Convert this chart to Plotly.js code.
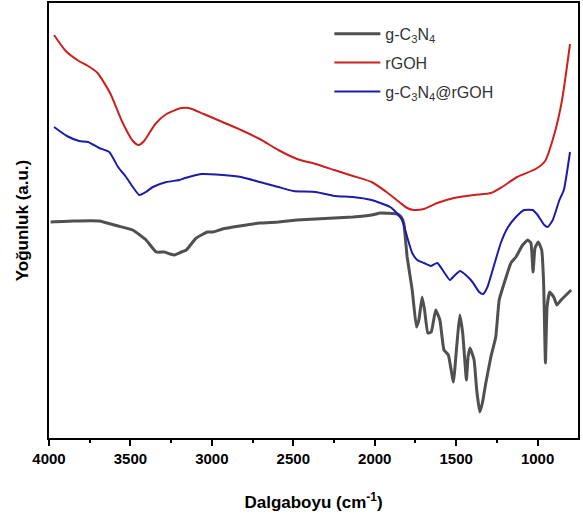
<!DOCTYPE html>
<html>
<head>
<meta charset="utf-8">
<script src="https://cdn.plot.ly/plotly-3.0.1.min.js"></script>
<style>html,body{margin:0;padding:0;background:#fff;}#chart{width:583px;height:524px;}</style>
</head>
<body>
<div id="chart"></div>
<script>
// Wavenumbers (cm-1) and intensities (a.u.)
const gcnWn = [3990,3851,3692,3576,3486,3404,3342,3291,3256,3229,3187,3157,3096,3027,2993,2935,2829,2706,2592,2477,2363,2248,2134,2019,1965,1863,1838,1822,1801,1770,1744,1729,1709,1694,1674,1653,1626,1600,1575,1548,1517,1497,1478,1460,1437,1427,1415,1390,1374,1355,1339,1318,1287,1257,1236,1205,1164,1133,1092,1061,1041,1028,1016,996,975,963,952,942,926,901,882,856,825,794];
const gcnVal = [216,217,217,212,208,198,186,186,184,183,186,188,200,206,206,209,212,215,216,218,219,220,221,223,225,224,221,215,181,148,111,118,141,128,105,106,128,118,88,83,56,91,123,105,58,81,90,78,48,26,35,55,81,101,138,155,175,181,193,198,195,166,190,196,188,155,75,131,146,141,133,138,143,148];

const rgoWn = [3969,3897,3817,3760,3702,3622,3553,3485,3450,3416,3347,3279,3187,3141,3050,2935,2821,2706,2592,2477,2363,2248,2134,2019,1928,1842,1801,1760,1698,1616,1513,1390,1286,1218,1126,1012,954,897,851,801];
const rgoVal = [403,387,377,372,365,344,317,297,293,297,314,324,330,330,324,316,308,299,288,279,274,268,262,256,246,235,230,228,229,235,240,243,245,251,261,269,277,304,337,394];

const compWn = [3969,3890,3815,3760,3692,3630,3576,3527,3445,3405,3363,3279,3199,3164,3065,2935,2821,2706,2592,2500,2363,2248,2134,2019,1965,1905,1883,1832,1801,1770,1739,1698,1657,1616,1575,1538,1513,1476,1441,1400,1359,1335,1308,1267,1226,1185,1133,1082,1030,1000,959,938,907,866,839,801];
const compVal = [311,302,297,296,290,286,271,261,243,246,251,256,258,260,264,263,261,256,251,247,246,242,241,238,235,231,228,218,201,185,178,175,172,175,166,158,162,167,163,156,146,144,151,173,195,210,221,228,228,223,213,211,218,238,248,286];

const seriesNames = ['g-C<sub>3</sub>N<sub>4</sub>','rGOH','g-C<sub>3</sub>N<sub>4</sub>@rGOH'];
const xTicks = [4000,3500,3000,2500,2000,1500,1000];

const traces = [
  {x:gcnWn, y:gcnVal, name:seriesNames[0], legendgroup:'a', mode:'lines',
   line:{color:'#505050', width:3, shape:'spline', smoothing:0.35}},
  {x:rgoWn, y:rgoVal, name:seriesNames[1], legendgroup:'b', mode:'lines',
   line:{color:'#cc2020', width:2, shape:'spline', smoothing:0.6}},
  {x:compWn, y:compVal, name:seriesNames[2], legendgroup:'c', mode:'lines',
   line:{color:'#1c1ca8', width:2, shape:'spline', smoothing:0.5}}
];

const layout = {
  width:583, height:524,
  margin:{l:49, r:5, t:3, b:86},
  paper_bgcolor:'#fff', plot_bgcolor:'#fff',
  font:{family:'Liberation Sans, Arial, sans-serif', color:'#000'},
  showlegend:true,
  legend:{x:0.53, y:0.968, xanchor:'left', yanchor:'top', bgcolor:'rgba(0,0,0,0)',
          font:{size:16, color:'#333'}, tracegroupgap:5, itemwidth:46},
  xaxis:{
    range:[4000,752], showgrid:false, zeroline:false,
    showline:true, mirror:true, linecolor:'#000', linewidth:2,
    ticks:'outside', ticklen:6, tickwidth:2, tickcolor:'#000',
    tickvals:xTicks, ticktext:xTicks.map(String),
    tickfont:{size:15, family:'Liberation Sans, Arial, sans-serif', weight:'bold'},
    minor:{dtick:250, tick0:0, ticks:'outside', ticklen:3, tickwidth:2, tickcolor:'#000'},
    title:{text:'Dalgaboyu (cm<sup>-1</sup>)', font:{size:17, weight:'bold'}, standoff:30}
  },
  yaxis:{
    range:[0,435], showgrid:false, zeroline:false,
    showline:true, mirror:true, linecolor:'#000', linewidth:2,
    ticks:'', showticklabels:false,
    title:{text:'Yoğunluk (a.u.)', font:{size:17, weight:'bold'}, standoff:14}
  }
};

Plotly.newPlot('chart', traces, layout, {displayModeBar:false, staticPlot:true});
</script>
</body>
</html>
